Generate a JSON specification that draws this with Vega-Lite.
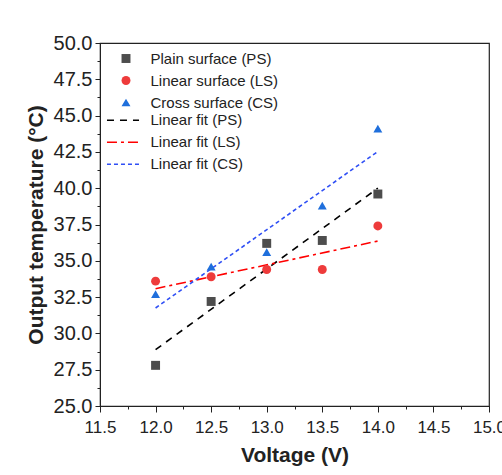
{
  "$schema": "https://vega.github.io/schema/vega-lite/v6.json",
  "autosize": "none",
  "width": 389,
  "height": 363,
  "padding": {"left": 100, "top": 43, "right": 13, "bottom": 69},
  "background": "white",
  "config": {
    "view": {"stroke": "#222222", "strokeWidth": 1.2},
    "font": "Liberation Sans",
    "axis": {"grid": false, "domainColor": "#222222", "tickColor": "#222222", "labelColor": "#222222", "titleColor": "#222222", "labelFont": "Liberation Sans", "titleFont": "Liberation Sans"},
    "legend": {"labelFont": "Liberation Sans", "labelColor": "#222222", "padding": 0}
  },
  "datasets": {
    "points": [
      {"voltage": 12.0, "temp": 27.8, "surface": "Plain surface (PS)"},
      {"voltage": 12.5, "temp": 32.2, "surface": "Plain surface (PS)"},
      {"voltage": 13.0, "temp": 36.2, "surface": "Plain surface (PS)"},
      {"voltage": 13.5, "temp": 36.4, "surface": "Plain surface (PS)"},
      {"voltage": 14.0, "temp": 39.6, "surface": "Plain surface (PS)"},
      {"voltage": 12.0, "temp": 33.6, "surface": "Linear surface (LS)"},
      {"voltage": 12.5, "temp": 33.9, "surface": "Linear surface (LS)"},
      {"voltage": 13.0, "temp": 34.4, "surface": "Linear surface (LS)"},
      {"voltage": 13.5, "temp": 34.4, "surface": "Linear surface (LS)"},
      {"voltage": 14.0, "temp": 37.4, "surface": "Linear surface (LS)"},
      {"voltage": 12.0, "temp": 32.7, "surface": "Cross surface (CS)"},
      {"voltage": 12.5, "temp": 34.6, "surface": "Cross surface (CS)"},
      {"voltage": 13.0, "temp": 35.6, "surface": "Cross surface (CS)"},
      {"voltage": 13.5, "temp": 38.8, "surface": "Cross surface (CS)"},
      {"voltage": 14.0, "temp": 44.1, "surface": "Cross surface (CS)"}
    ],
    "fits": [
      {"voltage": 12.0, "temp": 28.88, "fit": "Linear fit (PS)"},
      {"voltage": 14.0, "temp": 40.0, "fit": "Linear fit (PS)"},
      {"voltage": 12.0, "temp": 33.08, "fit": "Linear fit (LS)"},
      {"voltage": 14.0, "temp": 36.36, "fit": "Linear fit (LS)"},
      {"voltage": 12.0, "temp": 31.75, "fit": "Linear fit (CS)"},
      {"voltage": 14.0, "temp": 42.53, "fit": "Linear fit (CS)"}
    ]
  },
  "encoding": {
    "x": {
      "field": "voltage", "type": "quantitative",
      "scale": {"domain": [11.5, 15], "nice": false, "zero": false},
      "axis": {
        "title": "Voltage (V)",
        "values": [11.5, 11.75, 12, 12.25, 12.5, 12.75, 13, 13.25, 13.5, 13.75, 14, 14.25, 14.5, 14.75, 15],
        "labelExpr": "datum.value % 0.5 === 0 ? format(datum.value, '.1f') : ''",
        "tickSize": {"condition": {"test": "datum.value % 0.5 === 0", "value": 6}, "value": 3},
        "labelFontSize": 17,
        "labelPadding": 7,
        "titleFontSize": 21,
        "titleFontWeight": "bold",
        "titlePadding": 9,
        "labelOverlap": false,
        "labelFlush": false
      }
    },
    "y": {
      "field": "temp", "type": "quantitative",
      "scale": {"domain": [25, 50], "nice": false, "zero": false},
      "axis": {
        "title": "Output temperature (°C)",
        "values": [25, 26.25, 27.5, 28.75, 30, 31.25, 32.5, 33.75, 35, 36.25, 37.5, 38.75, 40, 41.25, 42.5, 43.75, 45, 46.25, 47.5, 48.75, 50],
        "labelExpr": "datum.value % 2.5 === 0 ? format(datum.value, '.1f') : ''",
        "tickSize": {"condition": {"test": "datum.value % 2.5 === 0", "value": 5}, "value": 3},
        "labelFontSize": 20,
        "labelPadding": 3,
        "titleFontSize": 21,
        "titleFontWeight": "bold",
        "titlePadding": 7,
        "labelOverlap": false,
        "labelFlush": false
      }
    }
  },
  "layer": [
    {
      "data": {"name": "fits"},
      "mark": {"type": "line", "strokeWidth": 1.6},
      "encoding": {
        "stroke": {
          "field": "fit", "type": "nominal",
          "scale": {"domain": ["Linear fit (PS)", "Linear fit (LS)", "Linear fit (CS)"], "range": ["#000000", "#ff0000", "#2f4ff5"]},
          "legend": {"title": null, "orient": "none", "legendX": 15.5, "legendY": 69.7, "symbolType": "M-3.56,0H3.56", "symbolSize": 81, "symbolStrokeWidth": 1.6, "labelFontSize": 15, "labelOffset": 20, "rowPadding": 6}
        },
        "strokeDash": {
          "field": "fit", "type": "nominal",
          "scale": {"domain": ["Linear fit (PS)", "Linear fit (LS)", "Linear fit (CS)"], "range": [[7, 6], [10, 4, 3, 4], [4, 3]]},
          "legend": null
        }
      }
    },
    {
      "data": {"name": "points"},
      "mark": {"type": "point", "filled": true, "size": 80, "opacity": 1},
      "encoding": {
        "fill": {
          "field": "surface", "type": "nominal",
          "scale": {"domain": ["Plain surface (PS)", "Linear surface (LS)", "Cross surface (CS)"], "range": ["#4d4d4d", "#ee3b3b", "#1f6fdc"]},
          "legend": {"title": null, "orient": "none", "legendX": 18.5, "legendY": 8, "symbolSize": 80, "symbolStrokeWidth": 0, "symbolOpacity": 1, "labelFontSize": 15, "labelOffset": 17, "rowPadding": 6}
        },
        "shape": {
          "field": "surface", "type": "nominal",
          "scale": {"domain": ["Plain surface (PS)", "Linear surface (LS)", "Cross surface (CS)"], "range": ["square", "circle", "triangle-up"]}
        }
      }
    }
  ]
}
